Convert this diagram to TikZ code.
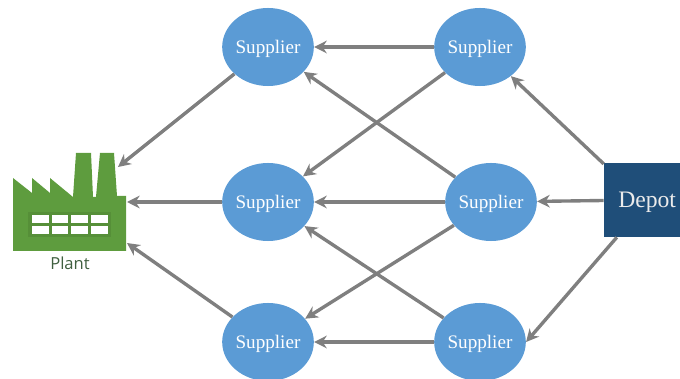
\documentclass[tikz,border=0pt]{standalone}
\usepackage{fontspec}
\setmainfont{Liberation Serif}
\newfontfamily\plantfont{Open Sans}
\usetikzlibrary{shapes.geometric, arrows.meta}
\definecolor{supplierblue}{HTML}{5B9BD5}
\definecolor{depotblue}{HTML}{1F4E79}
\definecolor{plantgreen}{HTML}{5E9C3E}
\definecolor{plantdark}{HTML}{568F38}
\definecolor{planttext}{HTML}{3F5F3F}
\definecolor{linegray}{HTML}{7F7F7F}
\tikzstyle{supplier} = [ellipse, minimum width=2.25cm, minimum height=1.95cm, inner sep=0pt, text depth=0pt, fill=supplierblue, text=white, font=\fontsize{13.6}{16}\selectfont]
\tikzstyle{depot} = [rectangle, minimum width=1.9cm, minimum height=1.85cm, inner xsep=0.1cm, inner ysep=0pt, text depth=0pt, text width=1.7cm, align=right, fill=depotblue, text=white!92!black, font=\fontsize{16.8}{20}\selectfont]
\tikzstyle{arrow} = [line width=2.4pt, linegray, ->, >={Stealth[length=9pt, width=9pt]}]
\tikzstyle{pane} = [fill=white, draw=none]

\begin{document}
\begin{tikzpicture}[x=0.025cm, y=-0.025cm]
                    \useasboundingbox (0,0) rectangle (680,379);

                    \fill[plantgreen] (13,251) -- (13,178) -- (32,193) -- (32,178) -- (50,193) -- (50,178) -- (73,197)
                        -- (76,153) -- (91,153) -- (93,197) -- (96,197) -- (100,153) -- (114,153) -- (117,196)
                        -- (126,196) -- (126,251) -- cycle;
                    \fill[plantdark] (28,212) rectangle (111,237);
                    \foreach \px/\qx in {32/49, 52/68, 71/88, 91/108} {
                        \fill[pane] (\px,215) rectangle (\qx,223);
                        \fill[pane] (\px,226) rectangle (\qx,234);
                    }
                    \node (plant) at (70,263) [text=planttext, font=\plantfont\fontsize{11.8}{14}\selectfont] {Plant};

                    \node (1) at (268,47) [supplier] {Supplier};
                    \node (2) at (480,47) [supplier] {Supplier};
                    \node (3) at (268,202) [supplier] {Supplier};
                    \node (4) at (491,202) [supplier] {Supplier};
                    \node (5) at (268,342) [supplier] {Supplier};
                    \node (6) at (480,342) [supplier] {Supplier};
                    \node (depot) at (642,200) [depot] {Depot};

                    \coordinate (planttop) at (118,167);
                    \coordinate (plantmid) at (127,202);
                    \coordinate (plantlow) at (127,243);

                    \draw[arrow] (1) -- (planttop);
                    \draw[arrow] (3) -- (plantmid);
                    \draw[arrow] (5) -- (plantlow);
                    \draw[arrow] (2) -- (1);
                    \draw[arrow] (2) -- (3);
                    \draw[arrow] (4) -- (1);
                    \draw[arrow] (4) -- (3);
                    \draw[arrow] (4) -- (5);
                    \draw[arrow] (6) -- (3);
                    \draw[arrow] (6) -- (5);
                    \draw[arrow] (depot) -- (2);
                    \draw[arrow] (depot) -- (4);
                    \draw[arrow] (depot.-124) -- (6.east);
                \end{tikzpicture}
\end{document}
